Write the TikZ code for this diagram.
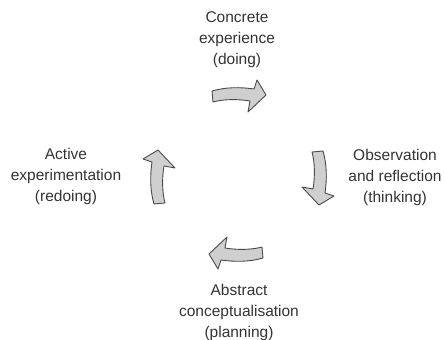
\documentclass[tikz,border=0pt]{standalone}
\usepackage{fontspec}
\setmainfont{Liberation Sans}
\definecolor{txt}{HTML}{333333}
\definecolor{arrfill}{HTML}{CFCFCF}
\definecolor{arrline}{HTML}{4A4A4A}
\tikzset{
  stagetext/.style={align=center, text=txt, font=\fontsize{15.5}{21}\selectfont, inner sep=0pt},
  cyclearrow/.style={fill=arrfill, draw=arrline, line width=0.9pt, line join=round},
  cyclearrowpic/.pic={
    \path[cyclearrow] (-26,4) .. controls (-12,8) and (2,8) .. (16,6) -- (19,15) -- (28,0)
      -- (10,-17) -- (12,-6) .. controls (0,-4) and (-14,-4) .. (-25,-7) -- cycle;
  }
}
\begin{document}
\begin{tikzpicture}[x=1pt,y=1pt]
\useasboundingbox (0,0) rectangle (445,340);
\node[stagetext] (concrete) at (237,300) {Concrete\\experience\\(doing)};
\node[stagetext] (observation) at (395,163) {Observation\\and reflection\\(thinking)};
\node[stagetext] (abstract) at (239,28) {Abstract\\conceptualisation\\(planning)};
\node[stagetext] (active) at (66,164) {Active\\experimentation\\(redoing)};
\pic at (238,245) {cyclearrowpic};
\pic[rotate=-90] at (319,163) {cyclearrowpic};
\pic[rotate=180] at (237,86) {cyclearrowpic};
\pic[rotate=90] at (158,162) {cyclearrowpic};
\end{tikzpicture}
\end{document}
